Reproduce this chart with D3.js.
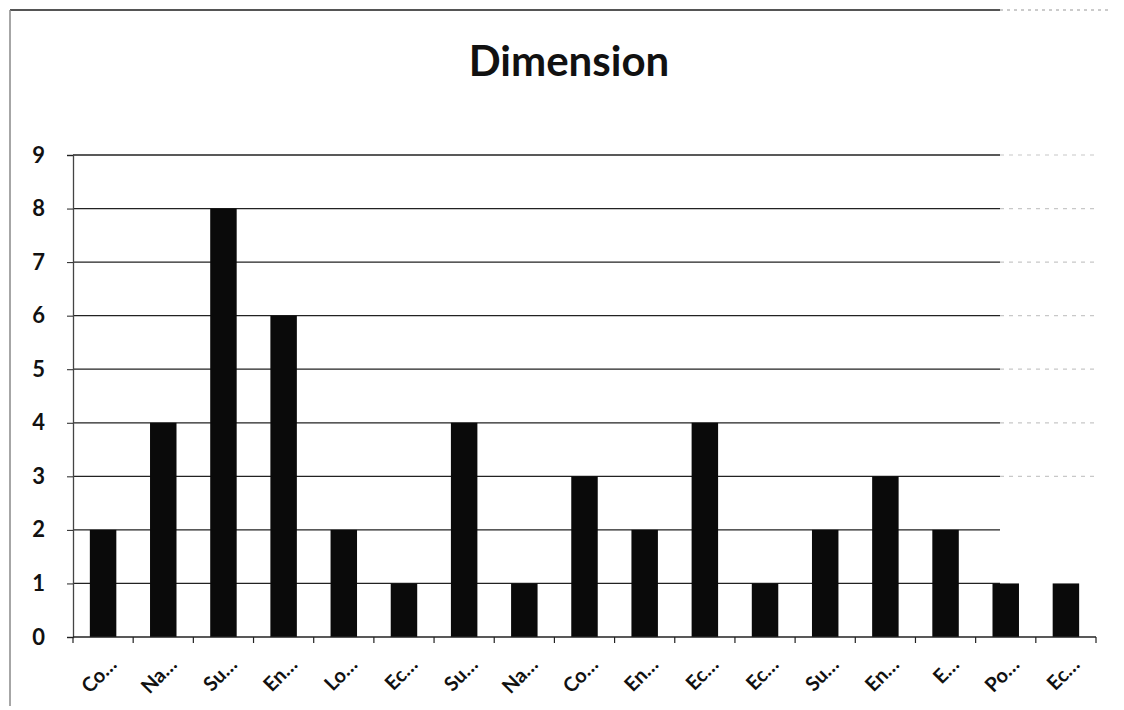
<!DOCTYPE html>
<html>
<head>
<meta charset="utf-8">
<script src="https://cdn.jsdelivr.net/npm/d3@7"></script>
<style>
  html, body { margin: 0; padding: 0; background: #fff; }
  svg { display: block; }
</style>
</head>
<body>
<svg id="chart" width="1124" height="710"></svg>
<script>
// Category labels (shortened, as shown on the axis)
const categories = ["Co…","Na…","Su…","En…","Lo…","Ec…","Su…","Na…","Co…","En…","Ec…","Ec…","Su…","En…","E…","Po…","Ec…"];
// Count per category
const values = [2,4,8,6,2,1,4,1,3,2,4,1,2,3,2,1,1];
// Y-axis ticks
const yTicks = [0,1,2,3,4,5,6,7,8,9];
const title = "Dimension";

const svg = d3.select("#chart");
const W = 1124, H = 710;
const margin = { left: 73, right: 28, top: 155, bottom: 73 };
const font = "Lato, 'Open Sans', sans-serif";

const x = d3.scaleBand()
  .domain(d3.range(categories.length))
  .range([margin.left, W - margin.right])
  .paddingInner(0.56)
  .paddingOuter(0.28);

const y = d3.scaleLinear()
  .domain([0, 9])
  .range([H - margin.bottom, margin.top]);

// Outer frame (top and left edges of the chart area)
svg.append("line").attr("x1", 10).attr("x2", 1000).attr("y1", 10).attr("y2", 10)
  .attr("stroke", "#555").attr("stroke-width", 2);
svg.append("line").attr("x1", 1000).attr("x2", 1112).attr("y1", 10).attr("y2", 10)
  .attr("stroke", "#bbb").attr("stroke-width", 1.5).attr("stroke-dasharray", "3,4");
svg.append("line").attr("x1", 10).attr("x2", 10).attr("y1", 10).attr("y2", 706)
  .attr("stroke", "#888").attr("stroke-width", 1.5);

// Title
svg.append("text")
  .attr("x", 569).attr("y", 76)
  .attr("text-anchor", "middle")
  .attr("font-family", font)
  .attr("font-weight", "bold")
  .attr("font-size", 42)
  .attr("fill", "#111")
  .text(title);

// Horizontal gridlines
const grid = svg.append("g");
grid.selectAll("line.major")
  .data(yTicks.filter(d => d > 0))
  .join("line")
  .attr("class", "major")
  .attr("x1", margin.left).attr("x2", 1000)
  .attr("y1", d => y(d)).attr("y2", d => y(d))
  .attr("stroke", "#222").attr("stroke-width", 1.3);
grid.selectAll("line.fade")
  .data(yTicks.filter(d => d > 2))
  .join("line")
  .attr("class", "fade")
  .attr("x1", 1000).attr("x2", W - margin.right)
  .attr("y1", d => y(d)).attr("y2", d => y(d))
  .attr("stroke", "#c8c8c8").attr("stroke-width", 1.2)
  .attr("stroke-dasharray", "4,5");

// Bars
svg.append("g")
  .selectAll("rect")
  .data(values)
  .join("rect")
  .attr("x", (d, i) => x(i))
  .attr("width", x.bandwidth())
  .attr("y", d => y(d))
  .attr("height", d => y(0) - y(d))
  .attr("fill", "#0a0a0a");

// Y axis
const yAxis = svg.append("g")
  .attr("transform", `translate(${margin.left},0)`)
  .call(d3.axisLeft(y).tickValues(yTicks).tickSize(6).tickPadding(22).tickFormat(d3.format("d")));
yAxis.select(".domain").attr("stroke", "#444").attr("stroke-width", 1.3);
yAxis.selectAll(".tick line").attr("stroke", "#222");
yAxis.selectAll("text")
  .attr("font-family", font)
  .attr("font-weight", "bold")
  .attr("font-size", 22)
  .attr("fill", "#111");

// X axis with ticks on band boundaries
const xAxisG = svg.append("g").attr("transform", `translate(0,${y(0)})`);
xAxisG.append("line")
  .attr("x1", margin.left).attr("x2", W - margin.right)
  .attr("stroke", "#222").attr("stroke-width", 1.3);
const step = x.step();
const boundaries = d3.range(categories.length + 1).map(i => margin.left + i * step);
xAxisG.selectAll("line.tick")
  .data(boundaries)
  .join("line")
  .attr("class", "tick")
  .attr("x1", d => d).attr("x2", d => d)
  .attr("y1", 0).attr("y2", 6)
  .attr("stroke", "#222").attr("stroke-width", 1.2);

xAxisG.selectAll("text")
  .data(categories)
  .join("text")
  .attr("transform", (d, i) => `translate(${x(i) + x.bandwidth() / 2 + 10},${24}) rotate(-45)`)
  .attr("text-anchor", "end")
  .attr("dy", "0.35em")
  .attr("font-family", font)
  .attr("font-weight", "bold")
  .attr("font-size", 20)
  .attr("fill", "#111")
  .text(d => d);
</script>
</body>
</html>
